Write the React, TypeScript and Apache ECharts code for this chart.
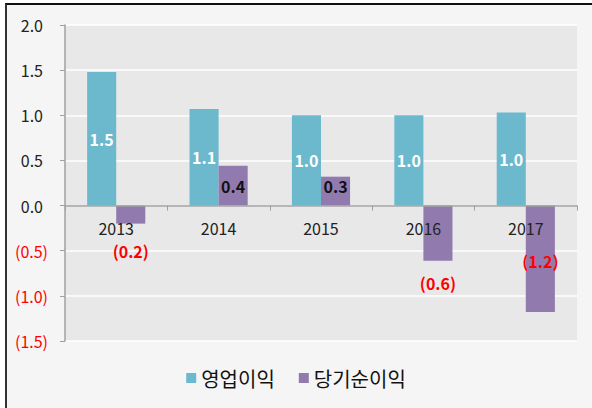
import React, { useEffect, useRef } from "react";
import * as echarts from "echarts";

const categories = ["2013", "2014", "2015", "2016", "2017"];
const operatingProfit = [1.48, 1.07, 1.0, 1.0, 1.03];
const netIncome = [-0.2, 0.44, 0.32, -0.61, -1.18];
const seriesNames = ["영업이익", "당기순이익"];
const yTicks = { min: -1.5, max: 2.0, interval: 0.5 };

// label pixel offsets for the net income labels (styling only)
const netLabelOffsets = [
  [0, 36],
  [0, 0],
  [0, -5],
  [0, 50],
  [0, 2],
];

const FONT = "'Noto Sans CJK KR', 'Noto Sans', sans-serif";

function fmtParen(v: number) {
  const s = Math.abs(v).toFixed(1);
  return v < 0 ? `(${s})` : s;
}

export default function App() {
  const ref = useRef<HTMLDivElement>(null);
  useEffect(() => {
    if (!ref.current) return;
    const chart = echarts.init(ref.current, undefined, { renderer: "svg" });
    chart.setOption({
      animation: false,
      backgroundColor: "transparent",
      textStyle: { fontFamily: FONT },
      grid: {
        left: 65,
        top: 25,
        right: 15,
        bottom: 67,
        show: true,
        backgroundColor: "#e8e8e8",
        borderWidth: 0,
      },
      legend: {
        data: seriesNames,
        bottom: 15,
        left: "center",
        icon: "rect",
        itemWidth: 10,
        itemHeight: 10,
        itemGap: 24,
        textStyle: { fontSize: 20, color: "#111", fontFamily: FONT },
      },
      xAxis: {
        type: "category",
        data: categories,
        z: 5,
        axisLine: { onZero: true, lineStyle: { color: "#a0a0a0", width: 1.5 } },
        axisTick: { show: true, length: 5, lineStyle: { color: "#a0a0a0" } },
        axisLabel: {
          fontSize: 16,
          lineHeight: 14,
          color: "#222",
          margin: -120,
          fontFamily: FONT,
        },
      },
      yAxis: {
        type: "value",
        min: yTicks.min,
        max: yTicks.max,
        interval: yTicks.interval,
        axisLine: { show: true, lineStyle: { color: "#a0a0a0", width: 1.5 } },
        axisTick: { show: true, length: 5, lineStyle: { color: "#a0a0a0" } },
        splitLine: { lineStyle: { color: "#ffffff", width: 1.5 } },
        axisLabel: {
          fontSize: 16,
          margin: 17,
          fontFamily: FONT,
          formatter: (v: number) =>
            v < 0 ? `{n|${fmtParen(v)}}` : `{p|${fmtParen(v)}}`,
          rich: {
            n: { color: "#ff0000", fontSize: 16, fontFamily: FONT },
            p: { color: "#222", fontSize: 16, fontFamily: FONT, padding: [0, 5, 0, 0] },
          },
        },
      },
      series: [
        {
          name: seriesNames[0],
          type: "bar",
          data: operatingProfit,
          barWidth: "28.4%",
          barGap: "0%",
          itemStyle: { color: "#6cb9cd" },
          label: {
            show: true,
            position: "inside",
            color: "#ffffff",
            fontSize: 16,
            fontWeight: "bold",
            fontFamily: FONT,
            formatter: (p: any) => fmtParen(p.value),
          },
        },
        {
          name: seriesNames[1],
          type: "bar",
          barWidth: "28.4%",
          data: netIncome.map((v, i) => ({
            value: v,
            label: {
              offset: netLabelOffsets[i],
              color: v < 0 ? "#ff0000" : "#111111",
            },
          })),
          itemStyle: { color: "#917bae" },
          label: {
            show: true,
            position: "inside",
            fontSize: 16,
            lineHeight: 14,
            fontWeight: "bold",
            fontFamily: FONT,
            formatter: (p: any) => fmtParen(p.value),
          },
        },
      ],
    });
    return () => chart.dispose();
  }, []);

  return (
    <div
      style={{
        position: "fixed",
        left: 0,
        top: 0,
        width: 592,
        height: 408,
        background: "#ffffff",
      }}
    >
      <div
        style={{
          position: "absolute",
          left: 5,
          top: 3,
          right: 0,
          bottom: 0,
          borderTop: "2px solid #111",
          borderLeft: "2px solid #333",
          background: "#f5f5f5",
        }}
      />
      <div
        ref={ref}
        style={{ position: "absolute", left: 0, top: 0, width: 592, height: 408 }}
      />
    </div>
  );
}
